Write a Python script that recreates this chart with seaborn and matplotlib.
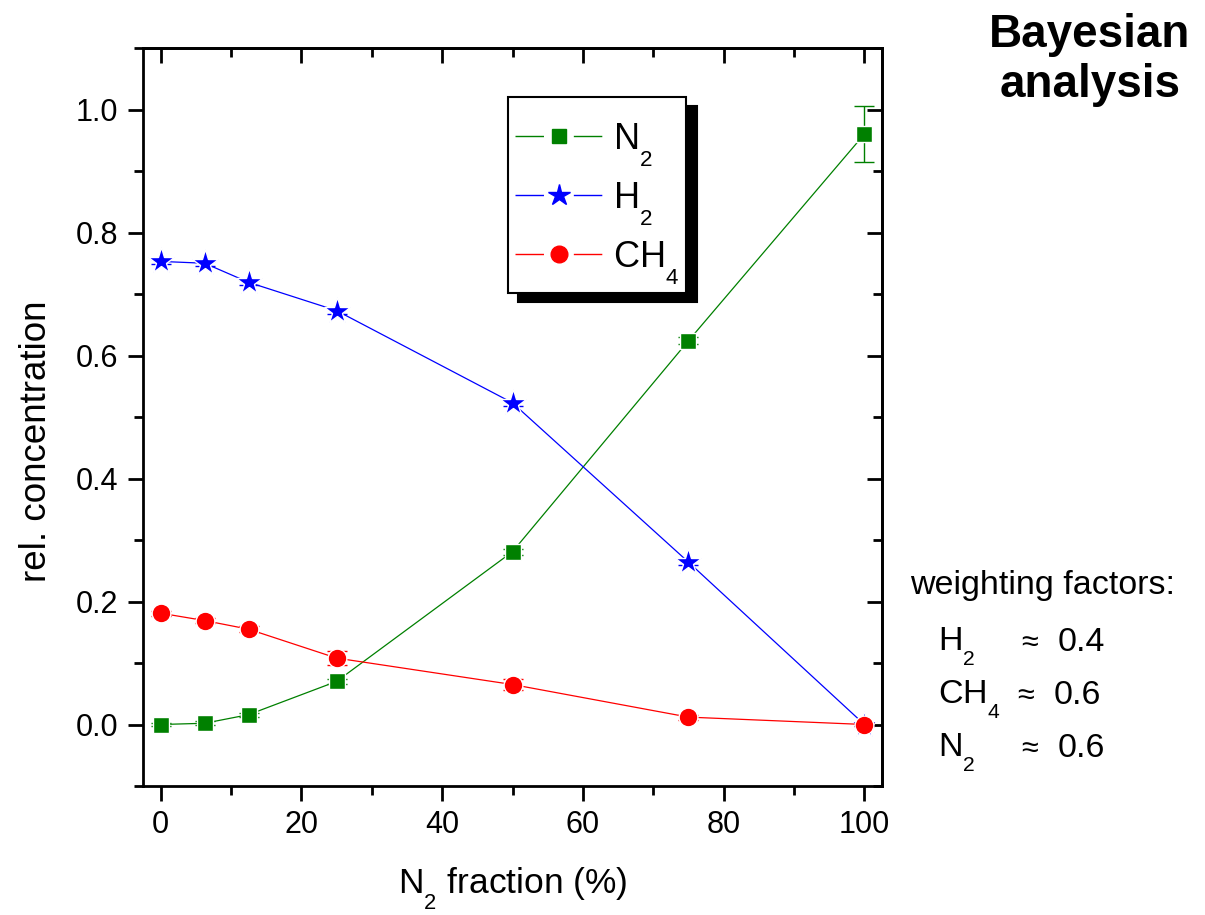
import numpy as np
import pandas as pd
import matplotlib
matplotlib.use("Agg")
import matplotlib.pyplot as plt
from matplotlib.lines import Line2D
from matplotlib.ticker import MultipleLocator, FormatStrFormatter
import matplotlib._mathtext as _mt
import seaborn as sns

# ---------------- data ----------------
n2_fraction = [0, 6.25, 12.5, 25, 50, 75, 100]
n2_conc = [0.000, 0.002, 0.016, 0.070, 0.281, 0.624, 0.960]
n2_err = [0.003, 0.003, 0.003, 0.004, 0.005, 0.006, 0.046]
h2_conc = [0.753, 0.750, 0.719, 0.673, 0.523, 0.264, 0.000]
h2_err = [0.004, 0.004, 0.004, 0.005, 0.005, 0.005, 0.002]
ch4_conc = [0.181, 0.169, 0.155, 0.108, 0.065, 0.012, 0.000]
ch4_err = [0.004, 0.004, 0.005, 0.012, 0.009, 0.004, 0.002]
series_labels = [r"$\mathregular{N_2}$", r"$\mathregular{H_2}$", r"$\mathregular{CH_4}$"]
x_ticks = [0, 20, 40, 60, 80, 100]
y_ticks = [0.0, 0.2, 0.4, 0.6, 0.8, 1.0]
weights_species = [r"$\mathregular{H_2}$", r"$\mathregular{CH_4}$", r"$\mathregular{N_2}$"]
weights_values = ["0.4", "0.6", "0.6"]

# Origin-style low subscripts
_mt.FontConstantsBase.sub1 = 0.85
_mt.SHRINK_FACTOR = 0.62

# ---------------- style ----------------
sns.set_style("ticks")
plt.rcParams["font.family"] = ["Liberation Sans", "DejaVu Sans"]
plt.rcParams["mathtext.fontset"] = "custom"
plt.rcParams["mathtext.rm"] = "Liberation Sans"
plt.rcParams["mathtext.it"] = "Liberation Sans:italic"
plt.rcParams["mathtext.bf"] = "Liberation Sans:bold"
plt.rcParams["lines.scale_dashes"] = False
for k in ["text.color", "axes.labelcolor", "xtick.color", "ytick.color", "axes.edgecolor"]:
    plt.rcParams[k] = "black"

df = pd.DataFrame({
    "x": n2_fraction * 3,
    "y": n2_conc + h2_conc + ch4_conc,
    "err": n2_err + h2_err + ch4_err,
    "species": ["N2"] * 7 + ["H2"] * 7 + ["CH4"] * 7,
})

colors = {"N2": "#008000", "H2": "#0000ff", "CH4": "#ff0000"}
markers = {"N2": "s", "H2": "*", "CH4": "o"}
msizes = {"N2": 11.5, "H2": 20, "CH4": 13.5}
leg_msizes = {"N2": 10, "H2": 16, "CH4": 12}

fig = plt.figure(figsize=(12.05, 9.15), dpi=100)
ax = fig.add_axes([143 / 1205, 1 - 786 / 915, (882 - 143) / 1205, (786 - 48) / 915])

handles = []
for i, sp in enumerate(["N2", "H2", "CH4"]):
    sub = df[df["species"] == sp]
    ax.errorbar(sub["x"], sub["y"], yerr=sub["err"], fmt="none",
                ecolor=colors[sp], elinewidth=1, capsize=7, capthick=1, zorder=2 + i)
    sns.lineplot(data=sub, x="x", y="y", ax=ax, color=colors[sp], lw=0.9,
                 marker=markers[sp], markersize=msizes[sp],
                 markeredgecolor="white", markeredgewidth=1.0,
                 legend=False, zorder=3 + i, estimator=None, sort=False)
    seg = Line2D([], [], color=colors[sp], lw=1, dashes=(20.5, 21.5))
    mk = Line2D([], [], color=colors[sp], lw=0, marker=markers[sp],
                markersize=leg_msizes[sp])
    handles.append((seg, mk))

ax.set_xlim(-2.5, 102.5)
ax.set_ylim(-0.1, 1.1)
ax.set_xticks(x_ticks)
ax.set_yticks(y_ticks)
ax.xaxis.set_minor_locator(MultipleLocator(10))
ax.yaxis.set_minor_locator(MultipleLocator(0.1))
ax.yaxis.set_major_formatter(FormatStrFormatter("%.1f"))
ax.tick_params(which="major", direction="out", length=11, width=2, labelsize=22, pad=6, colors="black")
ax.tick_params(which="minor", direction="out", length=6.5, width=2)
ax.tick_params(axis="y", which="major", pad=7)

for s in ax.spines.values():
    s.set_linewidth(2)
    s.set_color("black")

sec_x = ax.secondary_xaxis("top")
sec_x.set_xticks(x_ticks)
sec_x.xaxis.set_minor_locator(MultipleLocator(10))
sec_x.tick_params(which="major", direction="in", length=11, width=2, labeltop=False)
sec_x.tick_params(which="minor", direction="in", length=6.5, width=2)
sec_x.spines["top"].set_linewidth(2)

sec_y = ax.secondary_yaxis("right")
sec_y.set_yticks(y_ticks)
sec_y.yaxis.set_minor_locator(MultipleLocator(0.1))
sec_y.tick_params(which="major", direction="in", length=11, width=2, labelright=False)
sec_y.tick_params(which="minor", direction="in", length=6.5, width=2)
sec_y.spines["right"].set_linewidth(2)

ax.set_xlabel(r"$\mathregular{N_2}$ fraction (%)", fontsize=25.5)
ax.set_ylabel("rel. concentration", fontsize=26.5)
ax.xaxis.set_label_coords(0.5, -0.108)
ax.yaxis.set_label_coords(-0.121, 0.4675)

leg = ax.legend(handles, series_labels, loc="upper left",
                bbox_to_anchor=((508 - 143) / 739, (786 - 97) / 738),
                borderaxespad=0, fontsize=26, handlelength=2.4, handletextpad=0.3,
                labelspacing=0.34, borderpad=0.2, fancybox=False,
                title=" ", title_fontsize=3,
                shadow={"ox": 7.5, "oy": -6.5, "color": "black", "alpha": 1},
                frameon=True)
leg.get_frame().set_edgecolor("black")
leg.get_frame().set_linewidth(1.5)
leg.get_frame().set_alpha(1)
leg.set_zorder(10)

fig.text(1090 / 1205, 1 - 60 / 915, "Bayesian\nanalysis", ha="center", va="center",
         fontsize=33, fontweight="bold", linespacing=1.15, multialignment="center")

fig.text(910 / 1205, 1 - 594 / 915, "weighting factors:", ha="left", va="baseline", fontsize=24.5)
for k, (sp, val) in enumerate(zip(weights_species, weights_values)):
    yb = 1 - (651 + 53 * k) / 915
    fig.text(938 / 1205, yb, sp, ha="left", va="baseline", fontsize=24.5)
    xa = 1017 if k == 1 else 1021
    fig.text(xa / 1205, yb, "\u2248", ha="left", va="baseline", fontsize=22)
    fig.text((xa + 37) / 1205, yb, val, ha="left", va="baseline", fontsize=24.5)

fig.savefig("out.png", dpi=100, facecolor="white")
